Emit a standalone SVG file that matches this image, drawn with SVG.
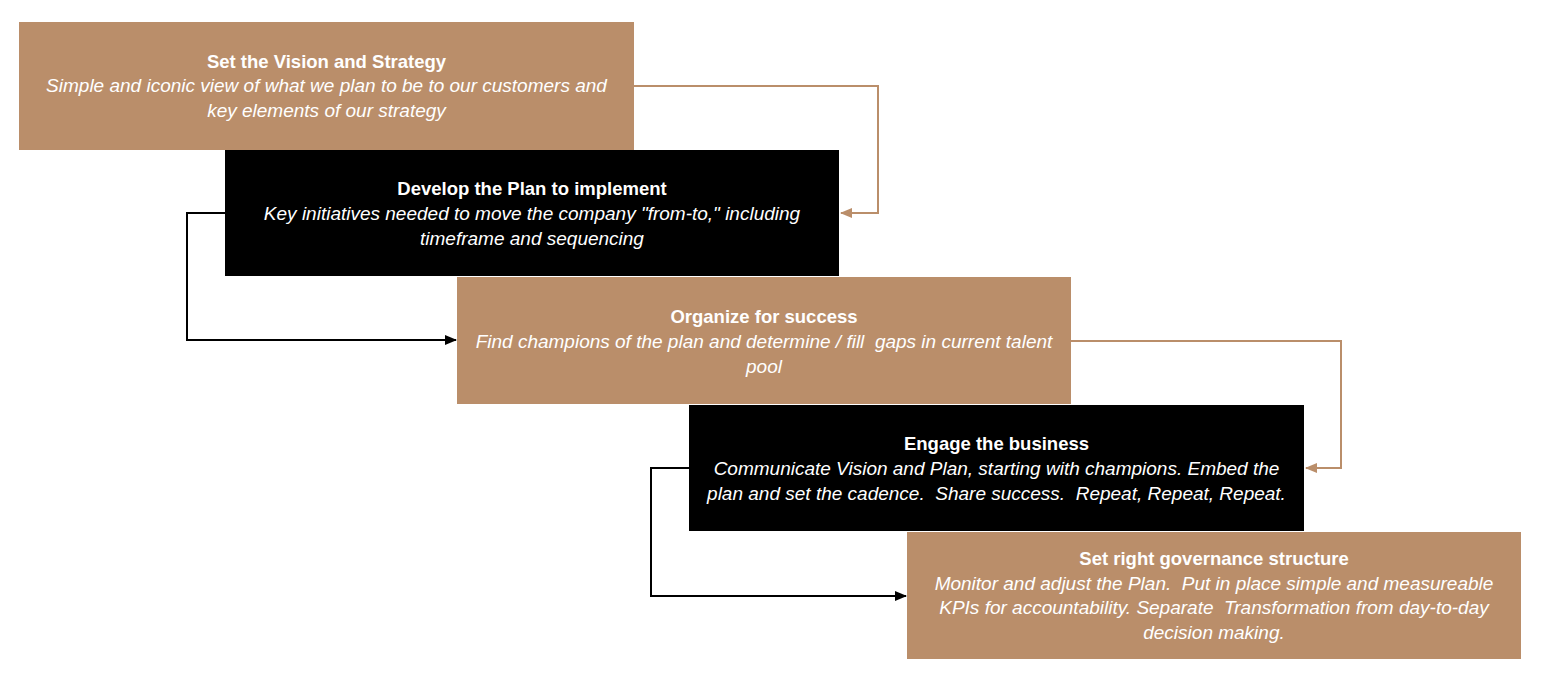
<svg xmlns="http://www.w3.org/2000/svg" width="1544" height="676" viewBox="0 0 1544 676">
<style>
.tan{fill:#BA8E6A}
.blk{fill:#000}
text{font-family:"Liberation Sans",Arial,sans-serif;fill:#fff;text-anchor:middle;white-space:pre}
.t{font-weight:bold;font-size:18.5px}
.d{font-style:italic;font-size:19px}
.ct{fill:none;stroke:#BA8E6A;stroke-width:2}
.cb{fill:none;stroke:#000;stroke-width:2}
</style>
<defs>
<marker id="at" markerWidth="12" markerHeight="10" refX="11" refY="5" orient="auto" markerUnits="userSpaceOnUse"><path d="M0,0 L12,5 L0,10 z" fill="#BA8E6A"/></marker>
<marker id="ab" markerWidth="12" markerHeight="10" refX="11" refY="5" orient="auto" markerUnits="userSpaceOnUse"><path d="M0,0 L12,5 L0,10 z" fill="#000"/></marker>
</defs>
<rect width="1544" height="676" fill="#fff"/>
<g id="connectors">
<path class="ct" d="M634,86 H878 V213 H841" marker-end="url(#at)"/>
<path class="cb" d="M225,213 H187 V340 H456" marker-end="url(#ab)"/>
<path class="ct" d="M1071,341 H1341 V468 H1306" marker-end="url(#at)"/>
<path class="cb" d="M689,468 H651 V596 H906" marker-end="url(#ab)"/>
</g>
<g id="node1">
<rect class="tan" x="19" y="22" width="615" height="128"/>
<text class="t" x="326.5" y="68">Set the Vision and Strategy</text>
<text class="d" x="326.5" y="92">Simple and iconic view of what we plan to be to our customers and</text>
<text class="d" x="326.5" y="117">key elements of our strategy</text>
</g>
<g id="node2">
<rect class="blk" x="225" y="150" width="614" height="126"/>
<text class="t" x="532" y="195">Develop the Plan to implement</text>
<text class="d" x="532" y="220">Key initiatives needed to move the company "from-to," including</text>
<text class="d" x="532" y="245">timeframe and sequencing</text>
</g>
<g id="node3">
<rect class="tan" x="457" y="277" width="614" height="127"/>
<text class="t" x="764" y="323">Organize for success</text>
<text class="d" x="764" y="348">Find champions of the plan and determine / fill  gaps in current talent</text>
<text class="d" x="764" y="373">pool</text>
</g>
<g id="node4">
<rect class="blk" x="689" y="405" width="615" height="126"/>
<text class="t" x="996.5" y="450">Engage the business</text>
<text class="d" x="996.5" y="475">Communicate Vision and Plan, starting with champions. Embed the</text>
<text class="d" x="996.5" y="500">plan and set the cadence.  Share success.  Repeat, Repeat, Repeat.</text>
</g>
<g id="node5">
<rect class="tan" x="907" y="532" width="614" height="127"/>
<text class="t" x="1214" y="565">Set right governance structure</text>
<text class="d" x="1214" y="590">Monitor and adjust the Plan.  Put in place simple and measureable</text>
<text class="d" x="1214" y="614">KPIs for accountability. Separate  Transformation from day-to-day</text>
<text class="d" x="1214" y="639">decision making.</text>
</g>
</svg>
